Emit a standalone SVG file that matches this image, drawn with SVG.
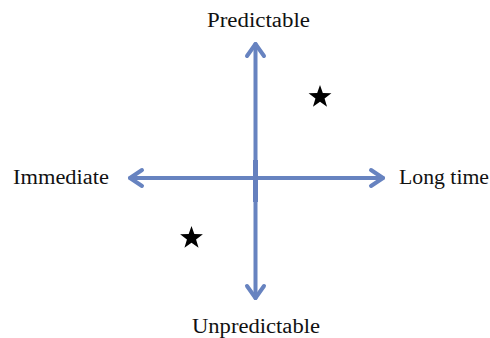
<svg xmlns="http://www.w3.org/2000/svg" width="490" height="338" viewBox="0 0 490 338">
<style>
.ax{stroke:#6783c0;stroke-width:4;fill:none;stroke-linecap:round;stroke-linejoin:round}
.lbl{font-family:"Liberation Serif","DejaVu Serif",serif;font-size:20px;fill:#111}
</style>
<defs>
<polygon id="star" points="0,-12 2.82,-3.88 11.41,-3.71 4.56,1.48 7.05,9.71 0,4.8 -7.05,9.71 -4.56,1.48 -11.41,-3.71 -2.82,-3.88" fill="#000"/>
</defs>
<rect width="490" height="338" fill="#fff"/>
<g id="connectors">
<path class="ax" d="M255.5,44 V298"/>
<path class="ax" d="M247,56 L255.5,44 L264,56"/>
<path class="ax" d="M247,286 L255.5,298 L264,286"/>
<path class="ax" d="M130,178 H383"/>
<path class="ax" d="M142,170 L130,178 L142,186"/>
<path class="ax" d="M371,170 L383,178 L371,186"/>
<rect x="253" y="160" width="5" height="42" fill="#6580be"/>
</g>
<g id="node-predictable"><text class="lbl" x="207" y="27" textLength="103" lengthAdjust="spacingAndGlyphs">Predictable</text></g>
<g id="node-unpredictable"><text class="lbl" x="192" y="333" textLength="128" lengthAdjust="spacingAndGlyphs">Unpredictable</text></g>
<g id="node-immediate"><text class="lbl" x="13" y="184" textLength="96" lengthAdjust="spacingAndGlyphs">Immediate</text></g>
<g id="node-longtime"><text class="lbl" x="399" y="184" textLength="90" lengthAdjust="spacingAndGlyphs">Long time</text></g>
<g id="star1"><use href="#star" x="320" y="97"/></g>
<g id="star2"><use href="#star" x="191.5" y="238"/></g>
</svg>
